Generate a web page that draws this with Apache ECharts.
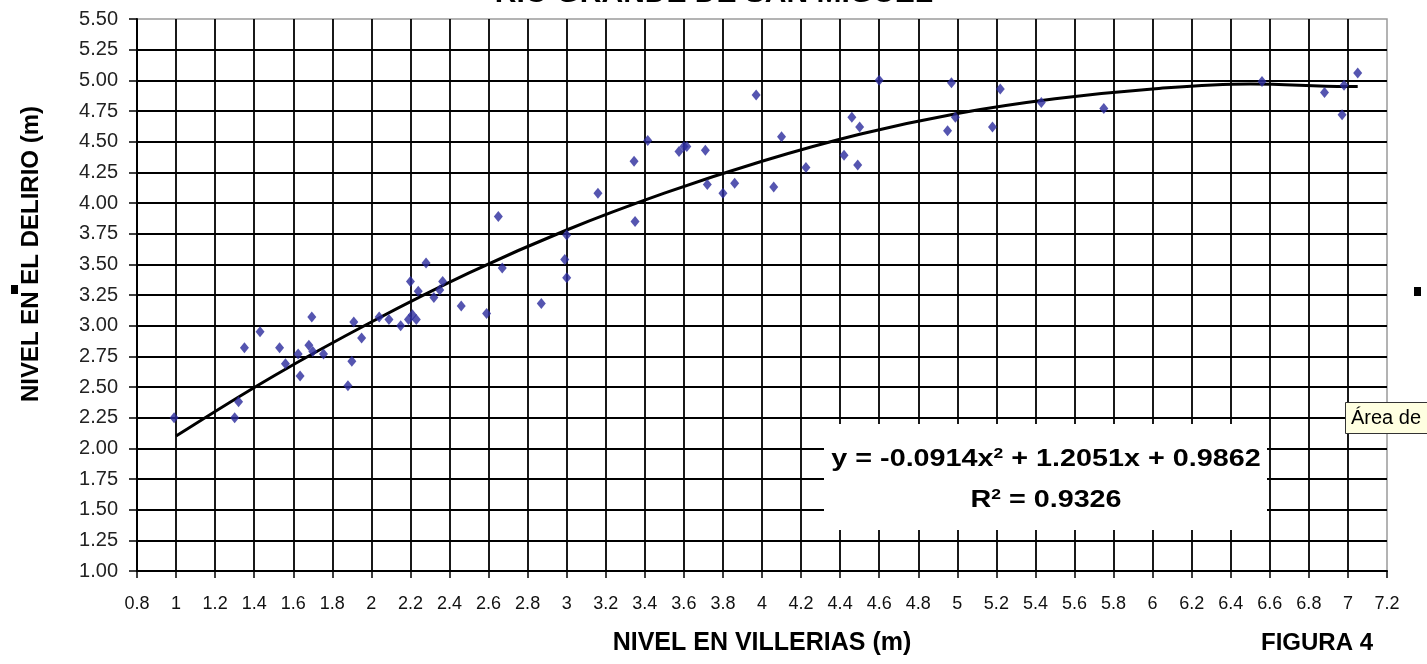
<!DOCTYPE html>
<html>
<head>
<meta charset="utf-8">
<title>Rio Grande de San Miguel - Figura 4</title>
<script src="https://cdn.jsdelivr.net/npm/echarts@6/dist/echarts.min.js"></script>
<style>
  html, body { margin: 0; padding: 0; background: #fff; }
  #chart { width: 1427px; height: 664px; }
</style>
</head>
<body>
<div id="chart"></div>
<script>
var obsX = [0.99, 1.30, 1.32, 1.35, 1.43, 1.53, 1.56, 1.625, 1.635, 1.68, 1.695, 1.70, 1.755,
  1.88, 1.90, 1.91, 1.95, 2.04, 2.09, 2.15, 2.19, 2.21, 2.23, 2.20, 2.24, 2.28, 2.32, 2.35,
  2.365, 2.46, 2.59, 2.65, 2.67, 2.87, 3.00, 2.99, 3.00, 3.16, 3.345, 3.35, 3.415, 3.575,
  3.60, 3.615, 3.71, 3.72, 3.80, 3.86, 3.97, 4.06, 4.10, 4.225, 4.42, 4.46, 4.50, 4.49,
  4.60, 4.95, 4.97, 4.99, 5.18, 5.22, 5.43, 5.75, 6.56, 6.88, 6.97, 6.98, 7.05];
var obsY = [2.25, 2.25, 2.38, 2.82, 2.95, 2.82, 2.69, 2.77, 2.59, 2.84, 3.07, 2.79, 2.77,
  2.51, 2.71, 3.03, 2.90, 3.07, 3.05, 3.00, 3.05, 3.09, 3.05, 3.36, 3.28, 3.51, 3.23, 3.29,
  3.36, 3.16, 3.10, 3.89, 3.47, 3.18, 3.74, 3.54, 3.39, 4.08, 4.34, 3.85, 4.51, 4.42,
  4.46, 4.46, 4.43, 4.15, 4.08, 4.16, 4.88, 4.13, 4.54, 4.29, 4.39, 4.70, 4.62, 4.31,
  5.00, 4.59, 4.98, 4.70, 4.62, 4.93, 4.82, 4.77, 4.99, 4.90, 4.72, 4.96, 5.06];

// polynomial trend line as drawn
var trendX = [1, 1.5, 2, 2.5, 3, 3.5, 4, 4.5, 5, 5.5, 6, 6.5, 7, 7.05];
var trendY = [2.10, 2.59, 3.03, 3.43, 3.78, 4.08, 4.34, 4.56, 4.73, 4.85, 4.93, 4.97, 4.95, 4.95];

var titleText = 'RIO GRANDE DE SAN MIGUEL';
var xName = 'NIVEL EN VILLERIAS (m)';
var yName = 'NIVEL EN EL DELIRIO (m)';
var figText = 'FIGURA 4';
var eqText = '{a|y = -0.0914x}{s|2}{a| + 1.2051x + 0.9862}';
var r2Text = '{a|R}{s|2}{a| = 0.9326}';

var font = '"Liberation Sans", Arial, sans-serif';

var obsData = obsX.map(function(x, i) { return [x, obsY[i]]; });
var trendData = trendX.map(function(x, i) { return [x, trendY[i]]; });

var eqRich = {
  a: { fontFamily: font, fontWeight: 'bold', fontSize: 23, fill: '#000', lineHeight: 26 },
  s: { fontFamily: font, fontWeight: 'bold', fontSize: 14, fill: '#000', lineHeight: 26, verticalAlign: 'top', padding: [0, 0, 10, 0] }
};

var chart = echarts.init(document.getElementById('chart'), null, { renderer: 'canvas' });
chart.setOption({
  animation: false,
  backgroundColor: '#fff',
  tooltip: { show: false },
  grid: {
    left: 137, right: 40, top: 19, bottom: 93,
    containLabel: false, outerBoundsMode: 'none',
    show: true, backgroundColor: '#fff', borderColor: '#9a9a9a', borderWidth: 1.5
  },
  xAxis: {
    type: 'value', min: 0.8, max: 7.2, interval: 0.2,
    name: xName, nameLocation: 'middle', nameGap: 60,
    nameTextStyle: { fontFamily: font, fontWeight: 'bold', fontSize: 25, color: '#000' },
    axisLine: { show: true, onZero: false, lineStyle: { color: '#000', width: 2 } },
    axisTick: { show: true, length: 7, lineStyle: { color: '#000', width: 1.5 } },
    axisLabel: { fontFamily: font, fontSize: 18, color: '#111', margin: 24 },
    splitLine: { show: true, showMinLine: false, showMaxLine: false, lineStyle: { color: '#000', width: 1.8 } }
  },
  yAxis: {
    type: 'value', min: 1, max: 5.5, interval: 0.25,
    axisLine: { show: true, onZero: false, lineStyle: { color: '#000', width: 2 } },
    axisTick: { show: true, length: 8, lineStyle: { color: '#000', width: 1.5 } },
    axisLabel: {
      fontFamily: font, fontSize: 20, color: '#222', margin: 19,
      formatter: function(v) { return v.toFixed(2); }
    },
    splitLine: { show: true, showMinLine: false, showMaxLine: false, lineStyle: { color: '#000', width: 1.8 } }
  },
  series: [{
    type: 'line',
    data: trendData,
    smooth: 0.4,
    showSymbol: false,
    symbol: 'none',
    z: 3,
    lineStyle: { color: '#000', width: 3 }
  }, {
    type: 'scatter',
    data: obsData,
    symbol: 'diamond',
    symbolSize: [9, 11],
    z: 4,
    itemStyle: { color: '#2b2b9c' }
  }],
  graphic: [
    { type: 'text', x: 714, y: -6, z: 50,
      style: { text: titleText, textAlign: 'center', textVerticalAlign: 'middle',
        font: 'bold 30px ' + font, fill: '#000' } },
    { type: 'text', x: 31, y: 254, rotation: Math.PI / 2, z: 50,
      style: { text: yName, textAlign: 'center', textVerticalAlign: 'middle',
        font: 'bold 24px ' + font, fill: '#000' } },
    { type: 'text', x: 1317, y: 643, z: 50,
      style: { text: figText, textAlign: 'center', textVerticalAlign: 'middle',
        font: 'bold 24px ' + font, fill: '#000' } },
    // equation label box
    { type: 'rect', z: 60, shape: { x: 824, y: 424, width: 443, height: 106 },
      style: { fill: '#fff', stroke: null } },
    { type: 'text', x: 1046, y: 460, scaleX: 1.25, z: 61,
      style: { text: eqText, rich: eqRich, textAlign: 'center', textVerticalAlign: 'middle' } },
    { type: 'text', x: 1046, y: 501, scaleX: 1.25, z: 61,
      style: { text: r2Text, rich: eqRich, textAlign: 'center', textVerticalAlign: 'middle' } },
    // selection handles and hover tip
    { type: 'rect', z: 60, shape: { x: 11, y: 285, width: 7, height: 9 }, style: { fill: '#000' } },
    { type: 'rect', z: 60, shape: { x: 1414, y: 287, width: 7, height: 9 }, style: { fill: '#000' } },
    { type: 'rect', z: 60, shape: { x: 1345.5, y: 402.5, width: 100, height: 31 },
      style: { fill: '#ffffe1', stroke: '#333', lineWidth: 1 } },
    { type: 'text', x: 1351, y: 418, z: 61,
      style: { text: '\u00c1rea de', textAlign: 'left', textVerticalAlign: 'middle',
        font: '20px ' + font, fill: '#000' } }
  ]
});
window.addEventListener('resize', function() { chart.resize(); });
</script>
</body>
</html>
